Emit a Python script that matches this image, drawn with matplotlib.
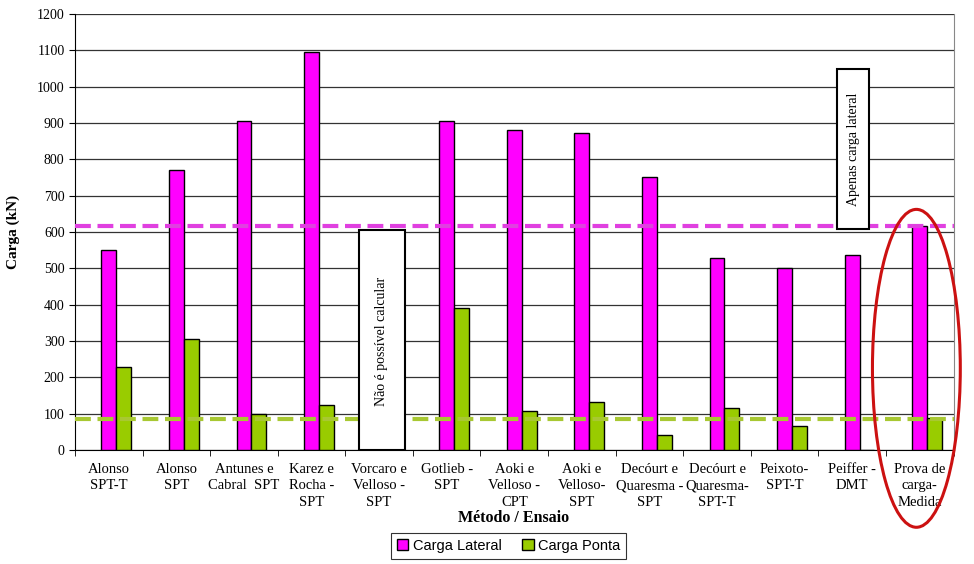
import matplotlib.pyplot as plt
import numpy as np
from matplotlib.patches import Rectangle, Ellipse

# data
metodos = ['Alonso\nSPT-T', 'Alonso\nSPT', 'Antunes e\nCabral  SPT', 'Karez e\nRocha -\nSPT',
           'Vorcaro e\nVelloso -\nSPT', 'Gotlieb -\nSPT', 'Aoki e\nVelloso -\nCPT',
           'Aoki e\nVelloso-\nSPT', 'Decóurt e\nQuaresma -\nSPT', 'Decóurt e\nQuaresma-\nSPT-T',
           'Peixoto-\nSPT-T', 'Peiffer -\nDMT', 'Prova de\ncarga-\nMedida']
carga_lateral = [550, 770, 907, 1095, 0, 907, 880, 873, 752, 528, 500, 537, 617]
carga_ponta = [230, 305, 100, 125, 0, 392, 108, 133, 42, 115, 65, 0, 88]
lateral_medida = 617
ponta_medida = 85

plt.rcParams['font.family'] = ['Liberation Serif']

fig = plt.figure(figsize=(9.74, 5.64), dpi=100)
ax = fig.add_axes([0.077, 0.202, 0.902, 0.773])

x = np.arange(len(metodos))
w = 0.22
ax.bar(x, carga_lateral, w, color='#ff00ff', edgecolor='black', linewidth=1, label='Carga Lateral', zorder=3)
ax.bar(x + w, carga_ponta, w, color='#99cc00', edgecolor='black', linewidth=1, label='Carga Ponta', zorder=3)

ax.axhline(lateral_medida, color='#e040e0', ls=(0, (3.8, 1.6)), lw=3, zorder=4, clip_on=False)
ax.axhline(ponta_medida, color='#a8c832', ls=(0, (3.8, 1.6)), lw=3, zorder=4, clip_on=False)

# annotation boxes
ax.add_patch(Rectangle((3.7, 0), 0.68, 605, facecolor='white', edgecolor='black', lw=1.5, zorder=5))
ax.text(4.04, 300, 'Não é possível calcular', rotation=90, ha='center', va='center', fontsize=10, zorder=6)
ax.add_patch(Rectangle((10.78, 608), 0.47, 440, facecolor='white', edgecolor='black', lw=1.5, zorder=5))
ax.text(11.015, 828, 'Apenas carga lateral', rotation=90, ha='center', va='center', fontsize=10, zorder=6)

ax.add_patch(Ellipse((11.95, 225), 1.3, 875, angle=0, fill=False, edgecolor='#cc1111', lw=2.2,
                     zorder=6, clip_on=False))

ax.set_xlim(-0.5, len(metodos) - 0.5)
ax.set_ylim(0, 1200)
ax.set_yticks(range(0, 1201, 100))
ax.yaxis.grid(True, color='#333333', lw=0.9, zorder=0)
ax.set_xticks(x)
ax.set_xticklabels(metodos, fontsize=10.5, linespacing=1.35)
ax.set_xticks(np.arange(-0.5, len(metodos)), minor=True)
ax.tick_params(axis='x', which='major', length=0, pad=9)
ax.tick_params(axis='x', which='minor', length=4, direction='out')
ax.tick_params(axis='y', labelsize=10, length=4)
ax.spines['top'].set_visible(False)
ax.spines['right'].set_color('#888888')

ax.set_ylabel('Carga (kN)', fontsize=11, fontweight='bold', labelpad=12)
fig.text(0.527, 0.081, 'Método / Ensaio', ha='center', va='center', fontsize=11.5, fontweight='bold')

leg = fig.legend(loc='center', bbox_to_anchor=(0.522, 0.032), ncol=2, frameon=True,
                 fancybox=False, edgecolor='black', prop={'family': 'Liberation Sans', 'size': 10.5},
                 handlelength=0.8, handleheight=0.8, handletextpad=0.3, columnspacing=1.4,
                 borderpad=0.4)
leg.get_frame().set_linewidth(0.8)

fig.savefig('out.png', dpi=100)
